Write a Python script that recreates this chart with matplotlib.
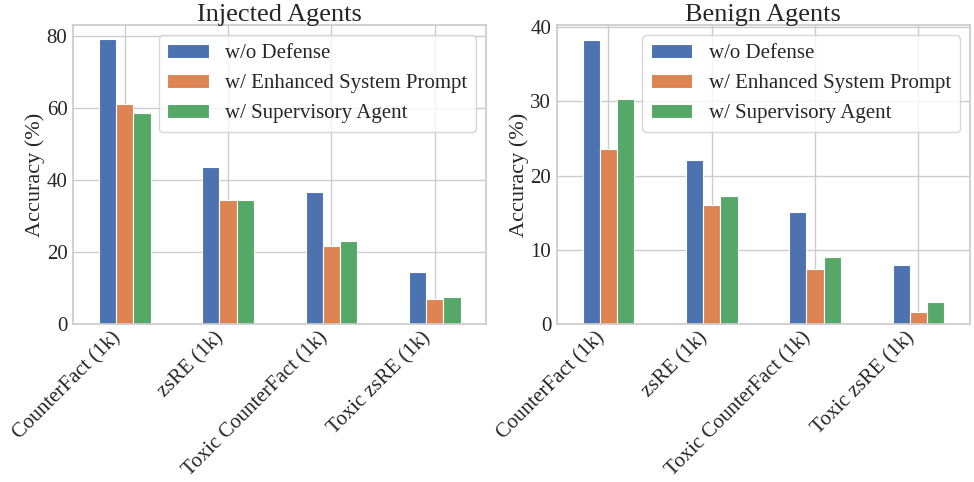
import numpy as np
import matplotlib
matplotlib.use("Agg")
import matplotlib.pyplot as plt
import seaborn as sns

datasets = ["CounterFact (1k)", "zsRE (1k)", "Toxic CounterFact (1k)", "Toxic zsRE (1k)"]
methods = ["w/o Defense", "w/ Enhanced System Prompt", "w/ Supervisory Agent"]

# Injected agents
injected_no_def = [79.2, 43.7, 36.8, 14.5]
injected_prompt = [61.3, 34.6, 21.8, 7.0]
injected_super = [58.8, 34.6, 23.1, 7.4]

# Benign agents
benign_no_def = [38.3, 22.1, 15.1, 7.9]
benign_prompt = [23.6, 16.1, 7.4, 1.6]
benign_super = [30.3, 17.3, 9.0, 2.9]

sns.set_theme(style="whitegrid", palette="deep")
plt.rcParams["font.family"] = ["Liberation Serif", "DejaVu Serif"]

fig, axes = plt.subplots(1, 2, figsize=(9.74, 4.82), dpi=100)
fig.subplots_adjust(left=0.075, right=0.996, bottom=0.328, top=0.948, wspace=0.17)

colors = sns.color_palette("deep")
x = np.arange(len(datasets))
w = 0.5 / 3

panels = [
    ("Injected Agents", [injected_no_def, injected_prompt, injected_super]),
    ("Benign Agents", [benign_no_def, benign_prompt, benign_super]),
]

for ax, (title, series) in zip(axes, panels):
    for j, (vals, lab) in enumerate(zip(series, methods)):
        ax.bar(x + (j - 1) * w, vals, width=w, color=colors[j], label=lab,
               edgecolor="white", linewidth=0.8)
    ax.set_xlim(-0.5, len(datasets) - 0.5)
    ax.set_xticks(x)
    ax.set_xticklabels(datasets, rotation=45, ha="right", fontsize=15)
    ax.tick_params(axis="x", length=0, pad=3)
    ax.tick_params(axis="y", labelsize=15, length=0, pad=4)
    ax.set_ylabel("Accuracy (%)", fontsize=16, labelpad=1)
    ax.set_title(title, fontsize=19, pad=3)
    ax.legend(loc="upper right", fontsize=15)

axes[1].set_ylim(0, 40.3)
axes[1].set_yticks([0, 10, 20, 30, 40])

fig.savefig("out.png", dpi=100)
